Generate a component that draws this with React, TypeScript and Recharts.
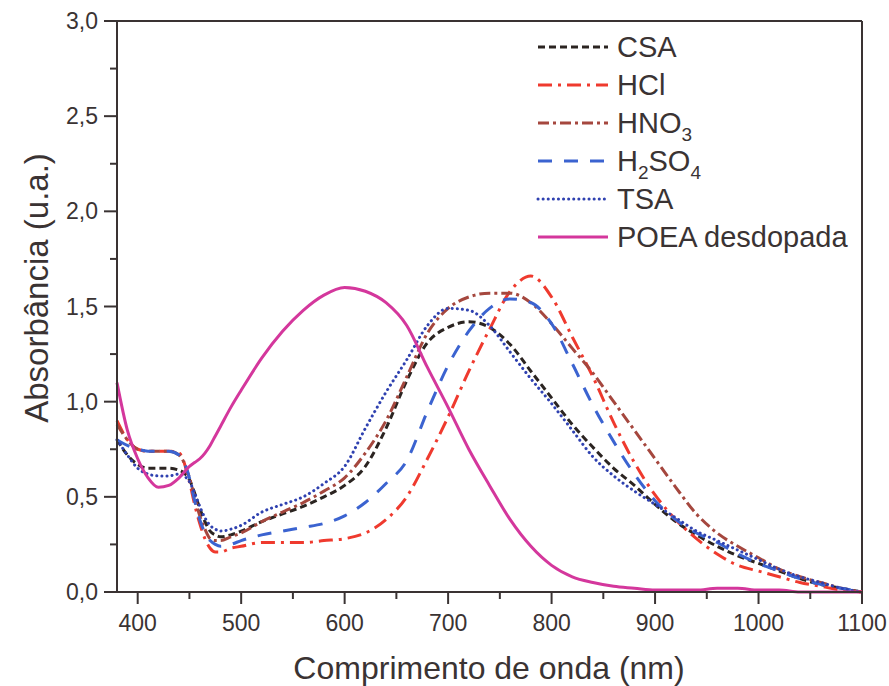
import React from 'react';
import { LineChart, Line, XAxis, YAxis, ReferenceLine } from 'recharts';

// wavelength (nm) and absorbance values
const wavelengths = [380, 390, 400, 410, 420, 430, 440, 450, 455, 460, 465, 470, 475, 480, 490, 500,
  520, 540, 560, 580, 600, 620, 640, 660, 680, 700, 720, 740, 760, 780, 800, 820, 840, 860, 880, 900,
  920, 940, 960, 980, 1000, 1020, 1040, 1060, 1080, 1100];

const csa = [0.80, 0.72, 0.67, 0.65, 0.65, 0.65, 0.64, 0.59, 0.52, 0.44, 0.37, 0.32, 0.30, 0.29, 0.30, 0.32,
  0.37, 0.41, 0.45, 0.50, 0.56, 0.66, 0.86, 1.11, 1.31, 1.39, 1.42, 1.39, 1.30, 1.16, 1.02, 0.88, 0.76, 0.65, 0.56, 0.46,
  0.37, 0.30, 0.24, 0.19, 0.15, 0.11, 0.07, 0.04, 0.02, 0.0];

const hcl = [0.90, 0.80, 0.75, 0.74, 0.74, 0.74, 0.73, 0.58, 0.46, 0.36, 0.28, 0.23, 0.21, 0.21, 0.23, 0.24,
  0.26, 0.26, 0.26, 0.27, 0.28, 0.31, 0.38, 0.50, 0.70, 0.92, 1.16, 1.38, 1.58, 1.66, 1.55, 1.34, 1.13, 0.89, 0.68, 0.51,
  0.38, 0.28, 0.20, 0.14, 0.11, 0.08, 0.05, 0.03, 0.01, 0.0];

const hno3 = [0.88, 0.80, 0.75, 0.74, 0.74, 0.74, 0.72, 0.60, 0.50, 0.40, 0.33, 0.28, 0.27, 0.27, 0.29, 0.31,
  0.37, 0.42, 0.47, 0.53, 0.60, 0.73, 0.90, 1.13, 1.36, 1.49, 1.55, 1.57, 1.57, 1.52, 1.41, 1.28, 1.15, 1.00, 0.85, 0.70,
  0.55, 0.41, 0.31, 0.24, 0.18, 0.12, 0.08, 0.05, 0.02, 0.0];

const h2so4 = [0.80, 0.77, 0.75, 0.74, 0.74, 0.74, 0.72, 0.60, 0.48, 0.38, 0.31, 0.27, 0.25, 0.24, 0.25, 0.27,
  0.30, 0.32, 0.34, 0.36, 0.40, 0.47, 0.57, 0.69, 0.95, 1.19, 1.37, 1.49, 1.54, 1.52, 1.41, 1.20, 0.98, 0.79, 0.62, 0.48,
  0.38, 0.31, 0.26, 0.20, 0.15, 0.11, 0.07, 0.04, 0.02, 0.0];

const tsa = [0.80, 0.72, 0.65, 0.62, 0.61, 0.61, 0.62, 0.58, 0.52, 0.45, 0.39, 0.35, 0.33, 0.32, 0.33, 0.35,
  0.42, 0.46, 0.50, 0.57, 0.66, 0.86, 1.05, 1.22, 1.40, 1.49, 1.48, 1.40, 1.26, 1.12, 0.99, 0.85, 0.71, 0.61, 0.53, 0.46,
  0.39, 0.32, 0.27, 0.22, 0.17, 0.12, 0.08, 0.05, 0.02, 0.0];

const poea = [1.10, 0.85, 0.70, 0.60, 0.55, 0.56, 0.60, 0.66, 0.68, 0.70, 0.73, 0.77, 0.82, 0.87, 0.97, 1.06,
  1.23, 1.37, 1.48, 1.56, 1.60, 1.58, 1.52, 1.40, 1.18, 0.97, 0.75, 0.56, 0.38, 0.24, 0.14, 0.08, 0.05, 0.03, 0.02, 0.01,
  0.01, 0.01, 0.02, 0.02, 0.01, 0.01, 0.0, 0.0, 0.0, 0.0];

const xTicks = [400, 450, 500, 550, 600, 650, 700, 750, 800, 850, 900, 950, 1000, 1050, 1100];
const yTicks = [0, 0.25, 0.5, 0.75, 1, 1.25, 1.5, 1.75, 2, 2.25, 2.5, 2.75, 3];

const data = wavelengths.map((w, i) => ({
  w,
  csa: csa[i],
  hcl: hcl[i],
  hno3: hno3[i],
  h2so4: h2so4[i],
  tsa: tsa[i],
  poea: poea[i],
}));

const FONT = '"Liberation Sans", Arial, sans-serif';
const INK = '#3a3333';

const series = [
  { key: 'csa', color: '#2b2421', dash: '7 4', cap: 'butt' },
  { key: 'hcl', color: '#ef3a2e', dash: '14 6 3 6', cap: 'butt' },
  { key: 'hno3', color: '#a5473e', dash: '11 4 3 4', cap: 'butt' },
  { key: 'h2so4', color: '#3b63d0', dash: '14 12', cap: 'butt' },
  { key: 'tsa', color: '#2f41b0', dash: '0.1 5', cap: 'round' },
  { key: 'poea', color: '#d4379c', dash: undefined, cap: 'butt' },
];

const XTick = ({ x, y, payload }: any) => {
  const major = payload.value % 100 === 0;
  return (
    <g>
      <line x1={x} x2={x} y1={y} y2={y + (major ? 12 : 7)} stroke={INK} strokeWidth={2} />
      {major && (
        <text x={x} y={y + 31} dy="0.35em" textAnchor="middle" fontFamily={FONT} fontSize={23} fill={INK}>
          {payload.value}
        </text>
      )}
    </g>
  );
};

const YTick = ({ x, y, payload }: any) => {
  const major = Math.round(payload.value * 2) === payload.value * 2;
  return (
    <g>
      <line x1={x - (major ? 13 : 7)} x2={x} y1={y} y2={y} stroke={INK} strokeWidth={2} />
      {major && (
        <text x={x - 19} y={y} dy="0.35em" textAnchor="end" fontFamily={FONT} fontSize={23} fill={INK}>
          {payload.value.toFixed(1).replace('.', ',')}
        </text>
      )}
    </g>
  );
};

// legend rows, drawn over the plot (top right)
const legendRows = [
  { key: 'csa', label: <>CSA</> },
  { key: 'hcl', label: <>HCl</> },
  { key: 'hno3', label: <>HNO<tspan dy={8} fontSize={19}>3</tspan></> },
  { key: 'h2so4', label: <>H<tspan dy={8} fontSize={19}>2</tspan><tspan dy={-8}>SO</tspan><tspan dy={8} fontSize={19}>4</tspan></> },
  { key: 'tsa', label: <>TSA</> },
  { key: 'poea', label: <>POEA desdopada</> },
];

const W = 889;
const H = 686;

export default function App() {
  return (
    <div style={{ position: 'relative', width: W, height: H, overflow: 'hidden' }}>
      <style>{'html, body { margin: 0; padding: 0; overflow: hidden; }'}</style>
      <LineChart width={W} height={H} data={data} margin={{ top: 21, right: 27, left: 0, bottom: 0 }}>
        <XAxis
          dataKey="w"
          type="number"
          domain={[380, 1100]}
          ticks={xTicks}
          interval={0}
          height={94}
          tickSize={0}
          tickMargin={0}
          tickLine={false}
          tick={<XTick />}
          axisLine={{ stroke: INK, strokeWidth: 2 }}
        />
        <YAxis
          type="number"
          domain={[0, 3]}
          ticks={yTicks}
          interval={0}
          width={117}
          tickSize={0}
          tickMargin={0}
          tickLine={false}
          tick={<YTick />}
          axisLine={{ stroke: INK, strokeWidth: 2 }}
        />
        <ReferenceLine y={3} stroke={INK} strokeWidth={2} />
        <ReferenceLine x={1100} stroke={INK} strokeWidth={2} />
        {series.map((s) => (
          <Line
            key={s.key}
            dataKey={s.key}
            type="monotone"
            stroke={s.color}
            strokeWidth={3}
            strokeDasharray={s.dash}
            strokeLinecap={s.cap as any}
            dot={false}
            isAnimationActive={false}
          />
        ))}
      </LineChart>
      <svg width={W} height={H} style={{ position: 'absolute', left: 0, top: 0, pointerEvents: 'none' }}>
        {legendRows.map((r, i) => {
          const s = series.find((d) => d.key === r.key)!;
          const y = 47 + i * 38;
          return (
            <g key={r.key}>
              <line x1={538} x2={608} y1={y} y2={y} stroke={s.color} strokeWidth={3}
                strokeDasharray={s.dash} strokeLinecap={s.cap as any} />
              <text x={617} y={y} dy="0.36em" fontFamily={FONT} fontSize={29} fill={INK}>{r.label}</text>
            </g>
          );
        })}
        <text x={489} y={679} textAnchor="middle" fontFamily={FONT} fontSize={32} fill={INK}>
          Comprimento de onda (nm)
        </text>
        <text x={36} y={288} transform="rotate(-90 36 288)" textAnchor="middle" dy="0.36em"
          fontFamily={FONT} fontSize={33} fill={INK}>
          Absorbância (u.a.)
        </text>
      </svg>
    </div>
  );
}
